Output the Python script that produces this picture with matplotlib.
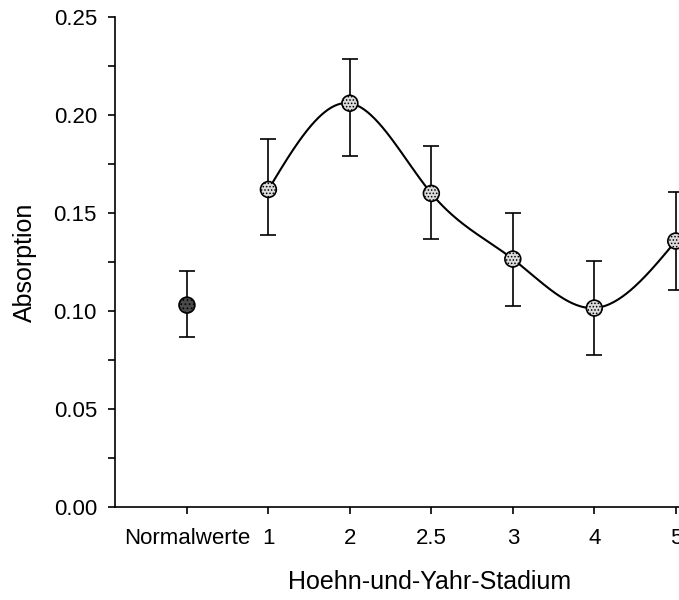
import numpy as np
import matplotlib
matplotlib.use("Agg")
import matplotlib.pyplot as plt
from matplotlib.ticker import MultipleLocator

plt.rcParams['font.family'] = ['Liberation Sans', 'DejaVu Sans']
plt.rcParams['hatch.color'] = '#999999'
plt.rcParams['hatch.linewidth'] = 0.7

# Daten
stadien = ['Normalwerte', '1', '2', '2.5', '3', '4', '5']
mittel = [0.103, 0.162, 0.206, 0.160, 0.1265, 0.1015, 0.1357]
oben = [0.1204, 0.188, 0.2286, 0.184, 0.150, 0.1255, 0.1607]
unten = [0.0867, 0.139, 0.179, 0.1367, 0.1026, 0.0776, 0.1107]


# natuerlicher kubischer Spline fuer die Kurve
def spline(x, y, xs):
    x = np.asarray(x, float)
    y = np.asarray(y, float)
    n = len(x)
    h = np.diff(x)
    A = np.zeros((n, n))
    b = np.zeros(n)
    A[0, 0] = A[-1, -1] = 1
    for i in range(1, n - 1):
        A[i, i - 1] = h[i - 1]
        A[i, i] = 2 * (h[i - 1] + h[i])
        A[i, i + 1] = h[i]
        b[i] = 6 * ((y[i + 1] - y[i]) / h[i] - (y[i] - y[i - 1]) / h[i - 1])
    M = np.linalg.solve(A, b)
    out = np.empty_like(xs)
    for k, t in enumerate(xs):
        i = min(max(np.searchsorted(x, t) - 1, 0), n - 2)
        a = (x[i + 1] - t) / h[i]
        c = (t - x[i]) / h[i]
        out[k] = (a * y[i] + c * y[i + 1]
                  + ((a ** 3 - a) * M[i] + (c ** 3 - c) * M[i + 1]) * h[i] ** 2 / 6)
    return out


pos = np.arange(len(stadien))
err = [np.array(mittel) - np.array(unten), np.array(oben) - np.array(mittel)]

fig = plt.figure(figsize=(6.79, 6.0), dpi=100)
# Achse reicht rechts ueber den Bildrand hinaus (wie im Original abgeschnitten)
ax = fig.add_axes([115 / 679, 93 / 600, 630 / 679, 490 / 600])

xs = np.linspace(1, 6, 300)
ax.plot(xs, spline(pos[1:], mittel[1:], xs), color='black', lw=1.5, zorder=2)

ax.errorbar(pos, mittel, yerr=err, fmt='none', ecolor='black', elinewidth=1.2,
            capsize=6, capthick=1.2, zorder=1)
ax.scatter(pos[:1], mittel[:1], s=130, c='#4a4a4a', edgecolors='black',
           linewidths=1.2, zorder=3, hatch='....')
ax.scatter(pos[1:], mittel[1:], s=130, c='#dcdcdc', edgecolors='black',
           linewidths=1.2, zorder=3, hatch='.....')

ax.set_xlim(-0.883, 6.85)
ax.set_ylim(0, 0.25)
ax.set_xticks(pos)
ax.set_xticklabels(stadien)
ax.yaxis.set_major_locator(MultipleLocator(0.05))
ax.yaxis.set_minor_locator(MultipleLocator(0.025))
ax.yaxis.set_major_formatter(plt.FormatStrFormatter('%.2f'))
ax.tick_params(axis='both', which='both', direction='out', length=5, width=1.2,
               labelsize=16, pad=8)
ax.tick_params(axis='x', pad=10)

for s in ['top', 'right']:
    ax.spines[s].set_visible(False)
ax.spines['left'].set_linewidth(1.2)
ax.spines['bottom'].set_linewidth(1.2)

ax.set_ylabel('Absorption', fontsize=18, labelpad=12)
ax.set_xlabel('Hoehn-und-Yahr-Stadium', fontsize=18, labelpad=15)

fig.savefig('out.png', dpi=100)
